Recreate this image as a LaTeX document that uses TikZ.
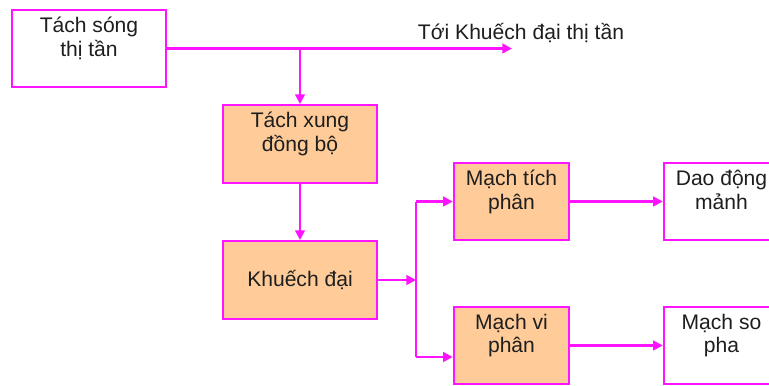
\documentclass[tikz,border=0pt]{standalone}
\usepackage{fontspec}
\setmainfont{Liberation Sans}
\usetikzlibrary{arrows.meta}
\definecolor{linkpink}{RGB}{255,20,255}
\definecolor{peach}{RGB}{255,204,153}
\definecolor{inkgray}{RGB}{30,30,30}

\tikzset{
  box/.style={rectangle, draw=linkpink, line width=1.4pt, fill=white, minimum width=3.08cm, minimum height=1.55cm, inner sep=0pt, text=inkgray, font=\fontsize{12}{13.6}\selectfont},
  smallbox/.style={box, minimum width=2.3cm},
  warm/.style={fill=peach},
  txt/.style={anchor=north, align=center, inner sep=0pt, yshift=-4.5pt, text=inkgray, font=\fontsize{12}{13.6}\selectfont},
  wire/.style={draw=linkpink, line width=1.3pt},
  flow/.style={wire, -{Triangle[length=5.5pt, width=5.5pt]}}
}

\begin{document}
\begin{tikzpicture}[x=0.02cm, y=-0.02cm]
\clip (0,0) rectangle (769,386);
\useasboundingbox (0,0) rectangle (769,386);

\node[box] (tss) at (89,48.5) {};
\node[txt] (tss-t) at (tss.north) {Tách sóng\\thị tần};

\node[box, warm] (txdb) at (300,144) {};
\node[txt] (txdb-t) at (txdb.north) {Tách xung\\đồng bộ};

\node[box, warm] (kd) at (300,280) {Khuếch đại};
\node[smallbox, warm] (mtp) at (511.5,201.5) {};
\node[txt] (mtp-t) at (mtp.north) {Mạch tích\\phân};

\node[smallbox, warm] (mvp) at (511.5,345.5) {};
\node[txt] (mvp-t) at (mvp.north) {Mạch vi\\phân};

\node[smallbox] (ddm) at (721.5,201.5) {};
\node[txt] (ddm-t) at (ddm.north) {Dao động\\mảnh};

\node[smallbox] (mso) at (721.5,345.5) {};
\node[txt] (mso-t) at (mso.north) {Mạch so\\pha};

\node[inner sep=0pt, text=inkgray, font=\fontsize{12}{13.6}\selectfont] (toi) at (521,33) {Tới Khuếch đại thị tần};

\coordinate (split) at (300,48.5);
\coordinate (tend) at (512,48.5);
\coordinate (jn) at (416,280);
\coordinate (jt) at (416,201.5);
\coordinate (jb) at (416,357);

\draw[flow] (tss.east) -- (tend);
\draw[flow] (split) -- (txdb.north);
\draw[flow] (txdb) -- (kd);
\draw[flow] (kd.east) -- (jn);
\draw[wire] (jt) -- (jb);
\draw[flow] (jt) -- (jt -| mtp.west);
\draw[flow] (jb) -- (jb -| mvp.west);
\draw[flow] (mtp) -- (ddm);
\draw[flow] (mvp) -- (mso);
\end{tikzpicture}
\end{document}
